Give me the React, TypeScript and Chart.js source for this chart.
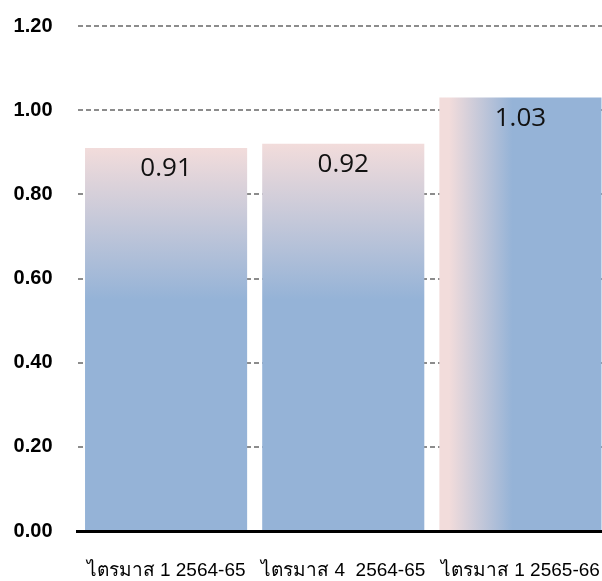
import React, { useEffect, useRef } from "react";
import { Chart, registerables } from "chart.js";

Chart.register(...registerables);

const categories = ["ไตรมาส 1 2564-65", "ไตรมาส 4  2564-65", "ไตรมาส 1 2565-66"];
const values = [0.91, 0.92, 1.03];
const labelTexts = ["0.91", "0.92", "1.03"];
const yTicks = [0, 0.2, 0.4, 0.6, 0.8, 1.0, 1.2];

const PINK = "#f2dcdb";
const BLUE = "#95b3d7";
const BAR_PCT = 0.915;

const valueLabelPlugin = {
  id: "valueLabels",
  afterDatasetsDraw(chart: any) {
    const ctx = chart.ctx;
    const meta = chart.getDatasetMeta(0);
    ctx.save();
    ctx.font = "26px 'Open Sans', sans-serif";
    ctx.fillStyle = "#111";
    ctx.textAlign = "center";
    ctx.textBaseline = "middle";
    meta.data.forEach((bar: any, i: number) => {
      ctx.fillText(labelTexts[i], bar.x, bar.y + 21);
    });
    ctx.restore();
  },
};

export default function App() {
  const ref = useRef<HTMLCanvasElement | null>(null);
  useEffect(() => {
    document.body.style.margin = "0";
    const canvas = ref.current!;
    const chart = new Chart(canvas, {
      type: "bar",
      data: {
        labels: categories,
        datasets: [
          {
            data: values,
            barPercentage: BAR_PCT,
            categoryPercentage: 1,
            backgroundColor: (c: any) => {
              const ch = c.chart;
              const area = ch.chartArea;
              if (!area || c.dataIndex === undefined) return BLUE;
              const ctx = ch.ctx;
              const xs = ch.scales.x;
              const ys = ch.scales.y;
              const i = c.dataIndex;
              if (i === 2) {
                const cw = (area.right - area.left) / categories.length;
                const cx = xs.getPixelForValue(i);
                const left = cx - (cw * BAR_PCT) / 2;
                const w = cw * BAR_PCT;
                const g = ctx.createLinearGradient(left, 0, left + w, 0);
                g.addColorStop(0, PINK);
                g.addColorStop(0.06, PINK);
                g.addColorStop(0.45, BLUE);
                g.addColorStop(1, BLUE);
                return g;
              }
              const top = ys.getPixelForValue(values[i]);
              const bot = ys.getPixelForValue(0.55);
              const g = ctx.createLinearGradient(0, top, 0, bot);
              g.addColorStop(0, PINK);
              g.addColorStop(1, BLUE);
              return g;
            },
            borderWidth: 0,
          },
        ],
      },
      options: {
        animation: false,
        responsive: false,
        maintainAspectRatio: false,
        layout: { padding: { top: 26, left: 0, right: 0, bottom: 0 } },
        plugins: {
          legend: { display: false },
          tooltip: { enabled: false },
        },
        scales: {
          x: {
            grid: { display: false, drawTicks: false },
            border: { color: "#000", width: 3 },
            ticks: {
              color: "#000",
              padding: 28,
              font: { family: "'Liberation Sans', Arial, sans-serif", size: 19 },
              maxRotation: 0,
              autoSkip: false,
            },
            afterFit: (s: any) => {
              s.height = 50;
              s.paddingLeft = 0;
              s.paddingRight = 0;
            },
          },
          y: {
            min: 0,
            max: 1.2,
            afterBuildTicks: (s: any) => {
              s.ticks = yTicks.map((v) => ({ value: v }));
            },
            grid: {
              color: "#8c8c8c",
              lineWidth: 2,
              drawTicks: false,
            },
            border: { display: false, dash: [5, 3] },
            ticks: {
              color: "#000",
              padding: 25,
              font: { family: "'Liberation Sans', Arial, sans-serif", size: 20, weight: "bold" },
              callback: (v: any) => Number(v).toFixed(2),
            },
            afterFit: (s: any) => {
              s.width = 77.5;
              s.paddingTop = 0;
              s.paddingBottom = 0;
            },
          },
        },
      },
      plugins: [valueLabelPlugin],
    } as any);
    return () => chart.destroy();
  }, []);
  return (
    <div style={{ width: 602, height: 581, overflow: "hidden", position: "relative" }}>
      <canvas ref={ref} width={609} height={581} style={{ display: "block" }} />
    </div>
  );
}
